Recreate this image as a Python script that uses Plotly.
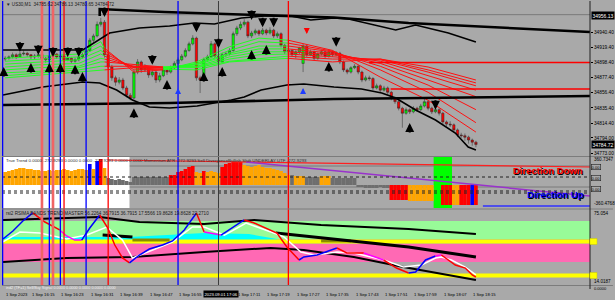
import plotly.graph_objects as go

# ============================ DATA ============================
# M1 bars, minutes after 16:00 on 1 Sep 2023 (US30)
BAR_MIN = list(range(8, 137))

OPEN = [34903,34904,34906,34909,34906,34910,34911,34909,34906,34907,
        34909,34904,34902,34907,34910,34906,34907,34902,34904,34900,
        34902,34906,34909,34915,34929,34935,34951,34954,34909,34892,
        34877,34871,34874,34863,34853,34849,34885,34899,34888,34891,
        34881,34885,34874,34880,34888,34885,34891,34897,34902,34907,
        34915,34924,34932,34877,34874,34902,34906,34924,34907,34899,
        34909,34910,34915,34938,34946,34951,34954,34935,34939,34942,
        34938,34943,34939,34943,34935,34938,34922,34913,34915,34909,
        34913,34897,34921,34909,34913,34904,34910,34913,34907,34913,
        34909,34911,34899,34888,34885,34891,34893,34885,34874,34877,
        34876,34863,34866,34860,34863,34857,34849,34844,34835,34828,
        34833,34830,34835,34833,34838,34844,34835,34830,34833,34828,
        34816,34813,34812,34805,34798,34797,34795,34791,34788]
HIGH = [34907,34908,34912,34911,34913,34915,34913,34910,34910,34912,
        34910,34906,34909,34913,34911,34910,34908,34907,34906,34905,
        34909,34912,34918,34932,34938,34955,34960,34957,34912,34895,
        34880,34878,34877,34866,34856,34888,34903,34901,34896,34893,
        34889,34887,34884,34891,34890,34894,34900,34905,34910,34918,
        34927,34936,34934,34880,34905,34909,34928,34926,34909,34912,
        34913,34918,34941,34949,34955,34958,34956,34942,34945,34944,
        34946,34945,34947,34945,34941,34940,34924,34918,34917,34915,
        34920,34924,34923,34916,34915,34912,34916,34915,34916,34915,
        34914,34913,34901,34890,34893,34896,34895,34887,34880,34880,
        34878,34869,34868,34866,34865,34859,34851,34846,34837,34836,
        34835,34838,34837,34841,34848,34846,34837,34836,34835,34830,
        34818,34817,34814,34807,34801,34800,34797,34793,34790]
LOW = [34900,34902,34904,34903,34905,34908,34906,34902,34903,34905,
       34900,34898,34900,34905,34903,34903,34899,34900,34897,34898,
       34900,34904,34907,34913,34925,34933,34948,34905,34888,34873,
       34866,34868,34860,34850,34846,34847,34882,34884,34885,34877,
       34878,34870,34871,34878,34881,34883,34889,34895,34900,34905,
       34913,34922,34873,34856,34872,34899,34904,34904,34896,34897,
       34906,34908,34913,34935,34943,34948,34932,34932,34936,34935,
       34936,34936,34937,34932,34932,34919,34910,34911,34906,34904,
       34910,34885,34906,34907,34901,34902,34908,34904,34905,34906,
       34907,34896,34885,34882,34883,34889,34882,34871,34872,34873,
       34860,34861,34857,34858,34854,34846,34841,34832,34808,34826,
       34827,34828,34830,34831,34836,34832,34827,34828,34825,34813,
       34810,34809,34802,34795,34794,34790,34786,34783,34781]
CLOSE = [34904,34906,34909,34906,34910,34911,34909,34906,34907,34909,
         34904,34902,34907,34910,34906,34907,34902,34904,34900,34902,
         34906,34909,34915,34929,34935,34951,34954,34909,34892,34877,
         34871,34874,34863,34853,34849,34885,34899,34888,34891,34881,
         34885,34874,34880,34888,34885,34891,34897,34902,34907,34915,
         34924,34932,34877,34874,34902,34906,34924,34907,34899,34909,
         34910,34915,34938,34946,34951,34954,34935,34939,34942,34938,
         34943,34939,34943,34935,34938,34922,34913,34915,34909,34913,
         34918,34921,34909,34913,34904,34910,34913,34907,34913,34909,
         34911,34899,34888,34885,34891,34893,34885,34874,34877,34876,
         34863,34866,34860,34863,34857,34849,34844,34835,34828,34833,
         34830,34835,34833,34838,34844,34835,34830,34833,34828,34816,
         34813,34812,34805,34798,34797,34795,34791,34788,34784.72]

PRICE_TICKS = [34940.40, 34919.40, 34898.40, 34877.40, 34856.40, 34835.40, 34814.40, 34794.00, 34773.00]
PRICE_TICK_TEXT = ["34940.40", "34919.40", "34898.40", "34877.40", "34856.40", "34835.40", "34814.40", "34794.00", "34773.00"]
TIME_TICK_MIN = [8, 15, 23, 31, 39, 47, 55, 71, 79, 87, 95, 103, 111, 119, 127, 135]
TIME_TICK_TEXT = ["1 Sep 2023", "1 Sep 16:15", "1 Sep 16:23", "1 Sep 16:31", "1 Sep 16:39", "1 Sep 16:47",
                  "1 Sep 16:55", "1 Sep 17:11", "1 Sep 17:19", "1 Sep 17:27", "1 Sep 17:35", "1 Sep 17:43",
                  "1 Sep 17:51", "1 Sep 17:59", "1 Sep 18:07", "1 Sep 18:15"]

# Moving-average ribbon (8 lines, fast -> slow), sampled bars
RIBBON_MIN = [8, 17, 28, 34, 35, 43, 51, 60, 69, 77, 85, 97, 110, 123, 136]
RIBBON_ROWS = [
    [34904, 34900, 34896, 34892, 34888, 34884, 34880, 34877],
    [34907, 34903, 34899, 34895, 34891, 34886, 34884, 34881],
    [34910, 34906, 34902, 34897, 34893, 34891, 34888, 34885],
    [34927, 34921, 34915, 34910, 34904, 34899, 34893, 34888],
    [34918, 34915, 34911, 34907, 34903, 34899, 34893, 34888],
    [34885, 34888, 34891, 34892, 34893, 34895, 34893, 34891],
    [34888, 34889, 34891, 34891, 34892, 34892, 34891, 34889],
    [34899, 34897, 34896, 34895, 34893, 34892, 34891, 34888],
    [34920, 34915, 34911, 34909, 34906, 34903, 34900, 34899],
    [34932, 34927, 34921, 34917, 34913, 34909, 34904, 34902],
    [34929, 34925, 34921, 34917, 34913, 34910, 34907, 34904],
    [34915, 34914, 34913, 34911, 34909, 34906, 34903, 34899],
    [34878, 34888, 34893, 34897, 34900, 34902, 34903, 34903],
    [34846, 34857, 34867, 34874, 34880, 34885, 34888, 34892],
    [34802, 34815, 34833, 34851, 34860, 34866, 34870, 34874],
]
RIBBON_TREND = [(0, 4, "up"), (4, 6, "down"), (6, 10, "up"), (10, 14, "down")]

UPPER_BB_MIN = [7.4, 29.1, 36.4, 44.5, 52.7, 59.4, 64.9, 72.2, 78.4, 85.7, 91.1, 97.4, 101.4, 114.2, 119.6, 128.5, 136.0]
UPPER_BB = [34915.5, 34915.5, 34939.0, 34946.0, 34948.7, 34952.9, 34951.5, 34959.8, 34962.6, 34962.6,
            34957.0, 34959.8, 34958.4, 34943.2, 34950.1, 34939.0, 34926.6]
LOWER_BB_MIN = [7.4, 18.2, 29.1, 33.7, 38.3, 42.6, 47.2, 52.7, 60.2, 69.5, 73.0, 77.6, 84.6, 89.2, 97.4,
                104.9, 110.4, 114.2, 119.6, 125.0, 130.4, 133.9, 136.0]
LOWER_BB = [34853.3, 34864.3, 34871.3, 34869.9, 34860.2, 34846.3, 34836.7, 34835.3, 34838.0, 34846.3, 34850.5,
            34860.2, 34867.1, 34868.5, 34864.3, 34861.6, 34856.0, 34849.1, 34832.5, 34818.7, 34800.7, 34781.3, 34777.2]
CHAN_TOP_MIN = [33.7, 33.7, 51.3, 97.4, 117.7, 139.4, 167.0]
CHAN_TOP = [34962.6, 34972.2, 34968.1, 34960.5, 34952.9, 34947.3, 34940.4]
CHAN_BOT_MIN = [7.4, 52.7, 97.4, 139.4, 167.0]
CHAN_BOT = [34839.4, 34842.2, 34847.7, 34850.5, 34851.9]
RED_LEVELS = [34898.4, 34861.6]
RED_LEVEL_START = [106.9, 112.8]
ASK_LEVEL = 34964.4

DOWN_ARROW_MIN = [12, 17, 21, 25, 28, 35, 48, 60, 66, 75, 78, 81, 98, 125]
DOWN_ARROW_P = [34913, 34909, 34906, 34906, 34906, 34961, 34895, 34940, 34918, 34957, 34947, 34947, 34920, 34833]
UP_ARROW_MIN = [7.6, 15, 20, 23, 27, 29, 43, 52, 62, 67, 75, 79, 96, 118]
UP_ARROW_P = [34892, 34897.5, 34897.5, 34897.5, 34895, 34885, 34835, 34874, 34885, 34892, 34915.5, 34922.4, 34899, 34814.5]
BLUE_UP_MIN = [55, 89]
BLUE_UP_P = [34863, 34863]
RED_DOWN_MIN = [90]
RED_DOWN_P = [34937.7]

# Vertical event lines (minute)
VLINE_MIN = [7.3, 18, 20, 21, 23, 24, 30, 36, 55, 66, 85]
VLINE_KIND = ["blue", "salmon", "blue", "salmon", "blue", "red", "blue", "red", "blue", "dark", "red"]

# True Trend histogram (pane 2)
TT_VALUES = [13, 14, 15, 16, 17, 17, 16, 16, 15, 15,
             14, 14, 15, 14, 15, 15, 16, 15, 14, 15,
             16, 16, 15, 21, 16, 24, 26, 17, 7, 6,
             5, 6, 5, 4, 3, 8, 8, 8, 8, 8,
             8, 8, 8, 8, 8, 10, 10, 13, 14, 16,
             18, 19, 13, 12, 14, 13, 14, 13, 12, 18,
             21, 22, 23, 23, 23, 20, 19, 18, 19, 20,
             18, 17, 17, 16, 15, 14, 12, 10, 10, 9,
             9, 9, 8, 8, 8, 8, 9, 9, 9, 7,
             7, 7, 7, 7, 7, 7, -2, -2, -3, -3,
             -3, -3, -2, -3, -3, -15, -15, -15, -15, -15,
             -16, -16, -16, -16, -16, -16, -16, 0, 0, -20,
             -20, -20, -20, -20, -20, -20, -20, -20, -20]
TT_STATE = list("oooooooooo" "oooooooooo" "ooobobrodd" "dddddddddd" "dddddrrrrr"
                "rrooroooor" "rrrrrooooo" "oooooooodo" "ooddddoood" "dddddddddd"
                "dddddrrrrr" "ooooooonnr" "rroorrrbr")
TT_RED_MIN = [36, 167]
TT_RED = [25, 18]
TT_PURPLE_MIN = [73.5, 167]
TT_PURPLE = [23, -11]
TT_BLUE_MIN = [137.9, 167]
TT_BLUE = [-21, -21]
TT_WHITE_ZONE = [7.13, 41.8]
TT_GREEN_ZONE = [124.5, 129.5]

# RSI bands pane (pane 3)
RSI_MIN = [7.4, 10.1, 12.8, 15.5, 18.8, 22.8, 24.7, 26.9, 28.8, 31.0, 33.7, 35.9, 37.8, 39.9, 41.8, 44.5,
           47.2, 50.8, 53.5, 56.7, 60.0, 62.1, 66.7, 69.5, 73.0, 75.7, 81.9, 84.6, 87.9, 89.2, 92.8, 96.6,
           98.2, 100.9, 105.5, 110.9, 114.4, 117.7, 119.6, 122.3, 125.0, 126.6, 128.5, 130.4, 133.1, 135.0, 136.0]
RSI = [52.2, 59.3, 68.1, 75.2, 67.2, 60.2, 54.9, 51.3, 51.3, 61.9, 73.4, 61.9, 46.9, 35.5, 31.1, 38.1,
       43.4, 46.9, 50.5, 60.2, 75.2, 58.4, 55.7, 61.9, 69.0, 66.3, 57.5, 45.2, 33.7, 36.4, 38.1, 42.5,
       44.3, 39.9, 39.9, 33.7, 26.6, 22.2, 23.1, 33.7, 37.2, 38.1, 33.7, 29.3, 26.6, 20.5, 18.7]
RSI_STATE = list("bbbrrmmmbbrrrrbbbbbbrmbbrrrrbbbbrrmrrbbbmrrrrr")
SIG_MIN = [7.4, 12.0, 17.4, 24.7, 30.2, 35.6, 39.9, 42.6, 48.1, 53.5, 58.9, 62.1, 67.6, 71.1, 73.5, 80.3,
           83.8, 88.4, 92.0, 98.2, 102.8, 110.9, 116.3, 121.2, 125.0, 126.6, 129.3, 133.1, 136.0]
SIG = [49.6, 58.4, 57.5, 52.2, 55.7, 62.8, 51.3, 35.5, 42.5, 49.6, 62.8, 62.8, 55.7, 61.9, 66.3, 58.4,
       54.0, 40.8, 38.1, 40.8, 39.9, 33.7, 27.5, 29.3, 35.5, 36.4, 33.7, 27.5, 20.5]
RB_UP_MIN = [7.4, 33.7, 44.5, 62.1, 75.7, 93.9, 117.7, 136.0]
RB_UP = [69.0, 71.6, 67.2, 65.5, 69.0, 64.6, 61.0, 56.6]
RB_LO_MIN = [7.4, 24.7, 42.6, 62.1, 80.2, 89.2, 102.8, 116.3, 136.0]
RB_LO = [31.9, 35.5, 36.3, 40.8, 44.3, 42.5, 36.3, 27.5, 16.1]
RB_MID_A_MIN = [34.5, 42.6]
RB_MID_A = [55.7, 54.0]
RB_MID_B_MIN = [81.6, 117.7, 136.0]
RB_MID_B = [57.5, 45.2, 36.3]
OLIVE_A_MIN = [42.6, 52.7]
OLIVE_A = [51.3, 51.3]
OLIVE_B_MIN = [93.9, 102.0]
OLIVE_B = [50.5, 50.5]
CYAN_MIN = [7.4, 28.3, 41.8, 62.1, 74.3, 81.9]
CYAN_TOP = [54.0, 54.0, 54.0, 57.5, 56.6, 52.2]
CYAN_BASE = 51.0
GREEN_ZONE = [52, 68]
PINK_ZONE = [32, 48]
YELLOW_LEVELS = [50, 20]

# ============================ FIGURE ============================
W, H = 615, 300
ML, MR, MT, MB = 2, 23, 1, 11
PW, PH = W - ML - MR, H - MT - MB
BG = "#a9a9a9"
FONT = "Liberation Sans"


def pxx(x):
    return (x - ML) / PW


def pxy(y):
    return (H - MB - y) / PH


XR = [7.13, 7.13 + PW / 3.69]

fig = go.Figure()

# ---- main pane ----
fig.add_trace(go.Scatter(x=XR, y=[ASK_LEVEL, ASK_LEVEL], mode="lines",
                         line=dict(color="#7a7a7a", width=1), xaxis="x", yaxis="y"))
ribbon_col = {"up": "#22ff22", "down": "#ff1010"}
for a, b, trend in RIBBON_TREND:
    for j in range(8):
        fig.add_trace(go.Scatter(x=RIBBON_MIN[a:b + 1], y=[r[j] for r in RIBBON_ROWS[a:b + 1]],
                                 mode="lines", line=dict(color=ribbon_col[trend], width=1),
                                 xaxis="x", yaxis="y"))
for p, s in zip(RED_LEVELS, RED_LEVEL_START):
    fig.add_trace(go.Scatter(x=[s, XR[1]], y=[p, p], mode="lines",
                             line=dict(color="#ff0000", width=1.5), xaxis="x", yaxis="y"))
fig.add_trace(go.Scatter(x=UPPER_BB_MIN, y=UPPER_BB, mode="lines", line=dict(color="black", width=1.6),
                         xaxis="x", yaxis="y"))
fig.add_trace(go.Scatter(x=LOWER_BB_MIN, y=LOWER_BB, mode="lines", line=dict(color="black", width=1.6),
                         xaxis="x", yaxis="y"))
fig.add_trace(go.Scatter(x=CHAN_TOP_MIN, y=CHAN_TOP, mode="lines", line=dict(color="black", width=2.6),
                         xaxis="x", yaxis="y"))
fig.add_trace(go.Scatter(x=CHAN_BOT_MIN, y=CHAN_BOT, mode="lines", line=dict(color="black", width=2.6),
                         xaxis="x", yaxis="y"))
fig.add_trace(go.Candlestick(x=BAR_MIN, open=OPEN, high=HIGH, low=LOW, close=CLOSE,
                             increasing=dict(fillcolor="#00ff00", line=dict(color="#2a2a2a", width=0.5)),
                             decreasing=dict(fillcolor="#ff0000", line=dict(color="#2a2a2a", width=0.5)),
                             whiskerwidth=0, xaxis="x", yaxis="y", hoverinfo="skip"))

# ---- pane 2: True Trend ----
tt_col = {"o": "#ffa500", "b": "#0000ff", "r": "#ff0000", "d": "#6e6e6e", "n": "rgba(0,0,0,0)"}
fig.add_trace(go.Bar(x=BAR_MIN, y=TT_VALUES, width=1.0, marker=dict(color=[tt_col[c] for c in TT_STATE],
                                                                   line=dict(width=0)),
                     xaxis="x", yaxis="y2", hoverinfo="skip"))
fig.add_trace(go.Scatter(x=TT_RED_MIN, y=TT_RED, mode="lines", line=dict(color="#ff2020", width=1.2),
                         xaxis="x", yaxis="y2"))
fig.add_trace(go.Scatter(x=TT_PURPLE_MIN, y=TT_PURPLE, mode="lines", line=dict(color="#9932cc", width=1.5),
                         xaxis="x", yaxis="y2"))
fig.add_trace(go.Scatter(x=TT_BLUE_MIN, y=TT_BLUE, mode="lines", line=dict(color="#3030ff", width=1.5),
                         xaxis="x", yaxis="y2"))

# ---- pane 3: RSI bands ----
fig.add_trace(go.Scatter(x=CYAN_MIN + CYAN_MIN[::-1], y=CYAN_TOP + [CYAN_BASE] * len(CYAN_MIN),
                         mode="lines", fill="toself", fillcolor="#00ffff", line=dict(width=0),
                         xaxis="x", yaxis="y3"))
for lv in YELLOW_LEVELS:
    fig.add_trace(go.Scatter(x=XR, y=[lv, lv], mode="lines", line=dict(color="#ffff00", width=4),
                             xaxis="x", yaxis="y3"))
for xs, ys in [(OLIVE_A_MIN, OLIVE_A), (OLIVE_B_MIN, OLIVE_B)]:
    fig.add_trace(go.Scatter(x=xs, y=ys, mode="lines", line=dict(color="#8a8a00", width=3),
                             xaxis="x", yaxis="y3"))
fig.add_trace(go.Scatter(x=RB_UP_MIN, y=RB_UP, mode="lines", line=dict(color="black", width=2),
                         xaxis="x", yaxis="y3"))
fig.add_trace(go.Scatter(x=RB_LO_MIN, y=RB_LO, mode="lines", line=dict(color="black", width=2),
                         xaxis="x", yaxis="y3"))
for xs, ys in [(RB_MID_A_MIN, RB_MID_A), (RB_MID_B_MIN, RB_MID_B)]:
    fig.add_trace(go.Scatter(x=xs, y=ys, mode="lines", line=dict(color="black", width=3),
                             xaxis="x", yaxis="y3"))
fig.add_trace(go.Scatter(x=SIG_MIN, y=SIG, mode="lines", line=dict(color="white", width=1.5),
                         xaxis="x", yaxis="y3"))
rsi_col = {"b": "#0000ff", "r": "#ff0000", "m": "#ff00ff"}
start = 0
for k in range(1, len(RSI_STATE) + 1):
    if k == len(RSI_STATE) or RSI_STATE[k] != RSI_STATE[start]:
        fig.add_trace(go.Scatter(x=RSI_MIN[start:k + 1], y=RSI[start:k + 1], mode="lines",
                                 line=dict(color=rsi_col[RSI_STATE[start]], width=1.5),
                                 xaxis="x", yaxis="y3"))
        start = k

# ---- pane 4 (tiny) ----
fig.add_trace(go.Scatter(x=XR, y=[0.5, 0.5], mode="lines", line=dict(color=BG, width=0),
                         xaxis="x", yaxis="y4"))

# ============================ SHAPES ============================
shapes = []
shapes.append(dict(type="rect", xref="x", yref="y2", x0=TT_WHITE_ZONE[0], x1=TT_WHITE_ZONE[1], y0=-23, y1=28,
                   fillcolor="white", line=dict(width=0), layer="below"))
shapes.append(dict(type="rect", xref="x", yref="y2", x0=TT_GREEN_ZONE[0], x1=TT_GREEN_ZONE[1], y0=-23, y1=28,
                   fillcolor="#00ff00", line=dict(width=0), layer="below"))
for lv in [19, -2]:
    shapes.append(dict(type="line", xref="paper", yref="y2", x0=0, x1=1, y0=lv, y1=lv,
                       line=dict(color="#7a7a7a", width=1), layer="below"))
for lv in [8, -6, -8]:
    shapes.append(dict(type="line", xref="paper", yref="y2", x0=0, x1=1, y0=lv, y1=lv,
                       line=dict(color="#202020", width=1, dash="dot"), layer="above"))
shapes.append(dict(type="rect", xref="paper", yref="y3", x0=0, x1=1, y0=GREEN_ZONE[0], y1=GREEN_ZONE[1],
                   fillcolor="#98fb98", line=dict(width=0), layer="below"))
shapes.append(dict(type="rect", xref="paper", yref="y3", x0=0, x1=1, y0=PINK_ZONE[0], y1=PINK_ZONE[1],
                   fillcolor="#ff69b4", line=dict(width=0), layer="below"))
vstyle = {"blue": ("#0000ff", 1.3), "salmon": ("#f06464", 2.6), "red": ("#ff0000", 1.3), "dark": ("#3c3c3c", 1)}
for m, kind in zip(VLINE_MIN, VLINE_KIND):
    c, w = vstyle[kind]
    shapes.append(dict(type="line", xref="x", yref="paper", x0=m, x1=m, y0=pxy(285), y1=1,
                       line=dict(color=c, width=w), layer="above"))
for yy in [156.5, 209, 285.5]:
    shapes.append(dict(type="line", xref="paper", yref="paper", x0=0, x1=pxx(615), y0=pxy(yy), y1=pxy(yy),
                       line=dict(color="#7c7c7c", width=1), layer="above"))
shapes.append(dict(type="line", xref="paper", yref="paper", x0=1, x1=1, y0=0, y1=1,
                   line=dict(color="#202020", width=1), layer="above"))
for yy in [241.5, 275.5]:
    shapes.append(dict(type="rect", xref="paper", yref="paper", x0=pxx(592), x1=pxx(599),
                       y0=pxy(yy + 3), y1=pxy(yy - 3), fillcolor="#ffff00", line=dict(color="#c8c800", width=0.5),
                       layer="above"))

# ============================ ANNOTATIONS ============================
ann = []
ARW = dict(showarrow=True, arrowhead=2, arrowsize=0.85, arrowwidth=2.1, ax=0, text="", xref="x", yref="y")
for m, p in zip(DOWN_ARROW_MIN, DOWN_ARROW_P):
    ann.append(dict(x=m, y=p, arrowcolor="black", ay=-11, **ARW))
for m, p in zip(UP_ARROW_MIN, UP_ARROW_P):
    ann.append(dict(x=m, y=p, arrowcolor="black", ay=11, **ARW))
for m, p in zip(BLUE_UP_MIN, BLUE_UP_P):
    ann.append(dict(x=m, y=p, xref="x", yref="y", text="", showarrow=True, arrowhead=2, arrowsize=0.8,
                    arrowwidth=1.5, arrowcolor="#1e3cff", ax=0, ay=7))
for m, p in zip(RED_DOWN_MIN, RED_DOWN_P):
    ann.append(dict(x=m, y=p, xref="x", yref="y", text="", showarrow=True, arrowhead=2, arrowsize=0.8,
                    arrowwidth=1.5, arrowcolor="#ff0000", ax=0, ay=-7))


def label(x, y, text, size=5, color="black", anchor="left", **kw):
    ann.append(dict(x=x, y=y, xref="paper", yref="paper", text=text, showarrow=False, xanchor=anchor,
                    yanchor="middle", font=dict(family=FONT, size=size, color=color), **kw))


for m, t in zip(TIME_TICK_MIN, TIME_TICK_TEXT):
    ann.append(dict(x=m, y=pxy(294), xref="x", yref="paper", text=t, showarrow=False, xanchor="left",
                    yanchor="middle", xshift=-1, font=dict(family=FONT, size=4.2, color="black")))
ann.append(dict(x=66.6, y=pxy(294), xref="x", yref="paper", text="2023.09.01 17:06", showarrow=False,
                xanchor="center", yanchor="middle", bgcolor="black", borderpad=0.5,
                font=dict(family=FONT, size=4.2, color="white")))

label(pxx(4), pxy(5), "\u25bc US30,M1  34785.62 34786.13 34780.65 34784.72", size=4.6, color="#202020")
label(pxx(4), pxy(160.5),
      "True Trend 0.0000 -272.9293 0.0000 0.0000 -272.9293 0.0000 0.0000 Momentum ATR -272.9293 "
      "Sell DivergenceBullish Shift UNDERLAY UTF -272.9293", size=4.4, color="#303030")
label(pxx(4), pxy(214), "rsi2 RSIMA BANDS TREND MASTER 56.2264 36.7915 36.7915 17.5566 19.8628 19.8628 22.2710",
      size=4.6, color="#202020")
label(pxx(4), pxy(287.8), "ind2 (TF=1) Sell/Buy Signal 0.0000 0.0000 0.0000 0.0000 0.0000", size=3.8,
      color="#f0f0f0")

label(pxx(593), pxy(15), "34956.13", color="white", bgcolor="black", borderpad=0.5)
label(pxx(593), pxy(144), "34784.72", color="white", bgcolor="black", borderpad=0.5)
label(pxx(594), pxy(159), "360.7347", size=4.6)
for yy in [167, 178, 188.5]:
    label(pxx(593), pxy(yy), "0.00", size=4, bordercolor="#202020", borderwidth=0.6, borderpad=0)
label(pxx(594), pxy(203), "-360.4768", size=4.6)
label(pxx(594), pxy(213.5), "75.054", size=4.6)
label(pxx(594), pxy(281), "14.0187", size=4.6)
label(pxx(594), pxy(288.5), "0.0000", size=4)

label(pxx(550), pxy(170), "<b>Direction Down</b>", size=9.5, color="#ff0000", anchor="center")
label(pxx(557), pxy(194), "<b>Direction Up</b>", size=9.5, color="#0000ff", anchor="center")
for a in ann[-2:]:
    a["font"]["shadow"] = "1px 1px 0px #000000"

# ============================ LAYOUT ============================
axis_common = dict(side="right", anchor="x", showgrid=False, zeroline=False, showline=False, fixedrange=True)
fig.update_layout(
    width=W, height=H,
    margin=dict(l=ML, r=MR, t=MT, b=MB, pad=0),
    paper_bgcolor=BG, plot_bgcolor=BG,
    showlegend=False, hovermode=False,
    boxgap=0.1,
    xaxis=dict(range=XR, domain=[0, 1], anchor="y4", showgrid=False, zeroline=False, showticklabels=False,
               showline=False, rangeslider=dict(visible=False), fixedrange=True),
    yaxis=dict(domain=[pxy(156), 1], range=[34768.9, 34983.3], tickvals=PRICE_TICKS, ticktext=PRICE_TICK_TEXT,
               ticks="outside", ticklen=2, tickcolor="black", tickfont=dict(family=FONT, size=4.8, color="black"),
               **axis_common),
    yaxis2=dict(domain=[pxy(208), pxy(157)], range=[-23, 28], showticklabels=False, **axis_common),
    yaxis3=dict(domain=[pxy(285), pxy(210)], range=[11.65, 77.8], showticklabels=False, **axis_common),
    yaxis4=dict(domain=[0, pxy(286)], range=[0, 1], showticklabels=False, **axis_common),
    shapes=shapes,
    annotations=ann,
)

fig.write_html("out.html", config={"displayModeBar": False})
